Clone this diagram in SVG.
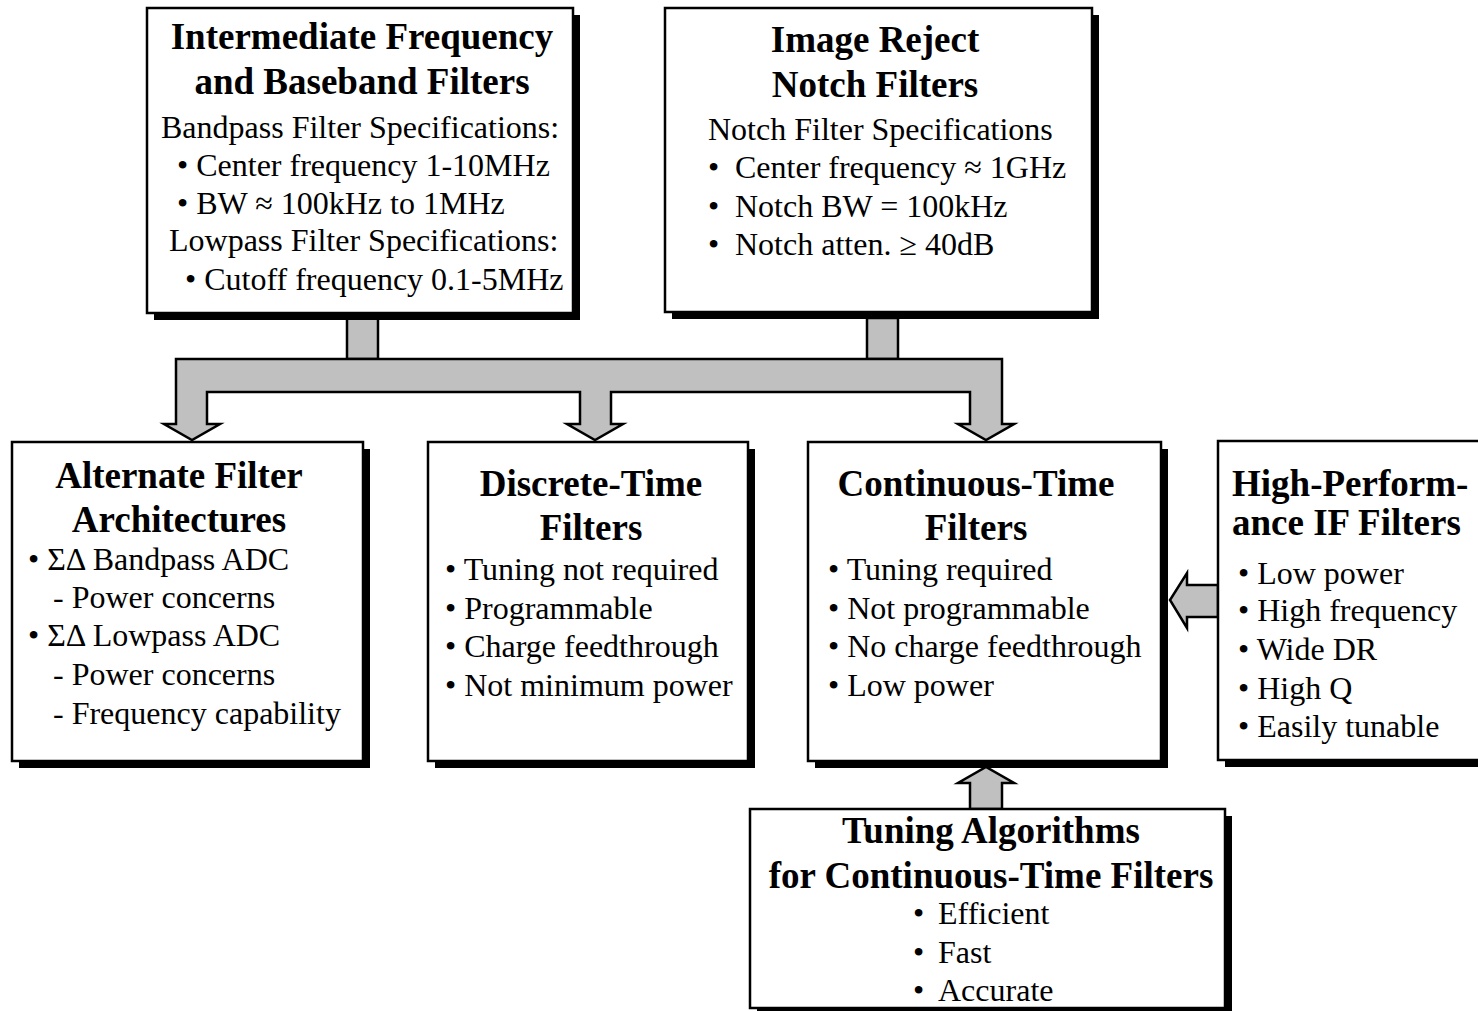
<svg xmlns="http://www.w3.org/2000/svg" width="1478" height="1011" viewBox="0 0 1478 1011">
<style>
.box{fill:#ffffff;stroke:#000000;stroke-width:2.5}
.sh{fill:#000000}
.t{font-family:"Liberation Serif","Times New Roman",serif;font-size:37px;font-weight:bold;fill:#000;text-anchor:middle}
.b{font-family:"Liberation Serif","Times New Roman",serif;font-size:32px;fill:#000}
.arr{fill:#c0c0c0;stroke:#000000;stroke-width:2.5;stroke-linejoin:miter}
</style>
<rect width="1478" height="1011" fill="#ffffff"/>
<g id="connectors">
<rect class="arr" x="347" y="318" width="31" height="41"/>
<rect class="arr" x="867" y="318" width="31" height="41"/>
<path class="arr" d="M176,359 L1002,359 L1002,424 L1014,424 L986,440 L958,424 L970,424 L970,392 L611,392 L611,424 L623,424 L595,440 L567,424 L580,424 L580,392 L207,392 L207,424 L220,424 L192,440 L164,424 L176,424 Z"/>
<path class="arr" d="M1218,585 L1187,585 L1187,573 L1170,600 L1187,628 L1187,617 L1218,617 Z"/>
<path class="arr" d="M970,809 L970,783 L958,783 L986,767 L1014,783 L1002,783 L1002,809 Z"/>
</g>
<g id="node-if">
<rect class="sh" x="154" y="15" width="426" height="305"/>
<rect class="box" x="147" y="8" width="426" height="305"/>
<text class="t" x="362" y="49">Intermediate Frequency</text>
<text class="t" x="362" y="94">and Baseband Filters</text>
<text class="b" x="161" y="138">Bandpass Filter Specifications:</text>
<text class="b" x="177" y="176">• Center frequency 1-10MHz</text>
<text class="b" x="177" y="214">• BW ≈ 100kHz to 1MHz</text>
<text class="b" x="169" y="251">Lowpass Filter Specifications:</text>
<text class="b" x="185" y="290">• Cutoff frequency 0.1-5MHz</text>
</g>
<g id="node-notch">
<rect class="sh" x="672" y="15" width="427" height="304"/>
<rect class="box" x="665" y="8" width="427" height="304"/>
<text class="t" x="875" y="52">Image Reject</text>
<text class="t" x="875" y="97">Notch Filters</text>
<text class="b" x="708" y="140">Notch Filter Specifications</text>
<text class="b" y="178"><tspan x="708">•</tspan><tspan x="735">Center frequency ≈ 1GHz</tspan></text>
<text class="b" y="217"><tspan x="708">•</tspan><tspan x="735">Notch BW = 100kHz</tspan></text>
<text class="b" y="255"><tspan x="708">•</tspan><tspan x="735">Notch atten. ≥ 40dB</tspan></text>
</g>
<g id="node-alternate">
<rect class="sh" x="19" y="449" width="351" height="319"/>
<rect class="box" x="12" y="442" width="351" height="319"/>
<text class="t" x="179" y="488">Alternate Filter</text>
<text class="t" x="179" y="532">Architectures</text>
<text class="b" x="28" y="570">• ΣΔ Bandpass ADC</text>
<text class="b" x="53" y="608">- Power concerns</text>
<text class="b" x="28" y="646">• ΣΔ Lowpass ADC</text>
<text class="b" x="53" y="685">- Power concerns</text>
<text class="b" x="53" y="724">- Frequency capability</text>
</g>
<g id="node-discrete">
<rect class="sh" x="435" y="449" width="320" height="319"/>
<rect class="box" x="428" y="442" width="320" height="319"/>
<text class="t" x="591" y="496">Discrete-Time</text>
<text class="t" x="591" y="540">Filters</text>
<text class="b" x="445" y="580">• Tuning not required</text>
<text class="b" x="445" y="619">• Programmable</text>
<text class="b" x="445" y="657">• Charge feedthrough</text>
<text class="b" x="445" y="696">• Not minimum power</text>
</g>
<g id="node-continuous">
<rect class="sh" x="815" y="449" width="353" height="319"/>
<rect class="box" x="808" y="442" width="353" height="319"/>
<text class="t" x="976" y="496">Continuous-Time</text>
<text class="t" x="976" y="540">Filters</text>
<text class="b" x="828" y="580">• Tuning required</text>
<text class="b" x="828" y="619">• Not programmable</text>
<text class="b" x="828" y="657">• No charge feedthrough</text>
<text class="b" x="828" y="696">• Low power</text>
</g>
<g id="node-highperf">
<rect class="sh" x="1225" y="448" width="280" height="319"/>
<rect class="box" x="1218" y="441" width="280" height="319"/>
<text class="t" x="1232" y="496" style="text-anchor:start">High-Perform-</text>
<text class="t" x="1232" y="535" style="text-anchor:start">ance IF Filters</text>
<text class="b" x="1238" y="584">• Low power</text>
<text class="b" x="1238" y="621">• High frequency</text>
<text class="b" x="1238" y="660">• Wide DR</text>
<text class="b" x="1238" y="699">• High Q</text>
<text class="b" x="1238" y="737">• Easily tunable</text>
</g>
<g id="node-tuning">
<rect class="sh" x="757" y="816" width="475" height="199"/>
<rect class="box" x="750" y="809" width="475" height="199"/>
<text class="t" x="991" y="843">Tuning Algorithms</text>
<text class="t" x="991" y="888">for Continuous-Time Filters</text>
<text class="b" y="924"><tspan x="913">•</tspan><tspan x="938">Efficient</tspan></text>
<text class="b" y="963"><tspan x="913">•</tspan><tspan x="938">Fast</tspan></text>
<text class="b" y="1001"><tspan x="913">•</tspan><tspan x="938">Accurate</tspan></text>
</g>
</svg>
